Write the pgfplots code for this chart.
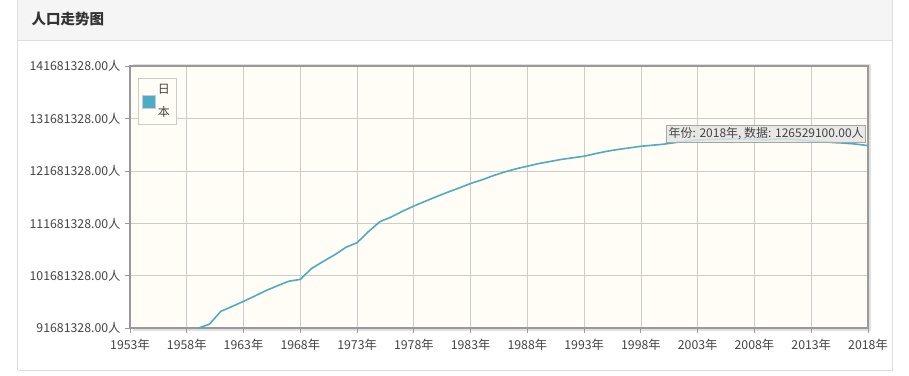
\documentclass[border=0pt]{standalone}
\usepackage{fontspec}
\setmainfont{Noto Sans CJK SC}
\usepackage{pgfplots}
\pgfplotsset{compat=1.18}
\definecolor{linec}{RGB}{77,172,190}
\definecolor{legc}{RGB}{75,172,198}
\definecolor{headbg}{RGB}{245,245,245}
\definecolor{panelb}{RGB}{221,221,221}
\definecolor{titlec}{RGB}{51,51,51}
\definecolor{labc}{RGB}{68,68,68}
\definecolor{gridc}{RGB}{204,204,204}
\definecolor{framec}{RGB}{153,153,153}
\definecolor{plotbg}{RGB}{255,253,246}
\pgfplotstableread{
year pop
1959 91.681328
1960 92.45
1961 94.90
1962 95.83
1963 96.81
1964 97.83
1965 98.88
1966 99.79
1967 100.65
1968 101.00
1969 103.10
1970 104.40
1971 105.65
1972 107.10
1973 108.00
1974 110.10
1975 112.00
1976 112.90
1977 114.00
1978 115.00
1979 115.90
1980 116.80
1981 117.65
1982 118.45
1983 119.30
1984 120.00
1985 120.80
1986 121.50
1987 122.10
1988 122.60
1989 123.10
1990 123.50
1991 123.90
1992 124.20
1993 124.50
1994 125.00
1995 125.45
1996 125.80
1997 126.10
1998 126.40
1999 126.60
2000 126.80
2001 127.10
2002 127.40
2003 127.60
2004 127.70
2005 127.75
2006 127.80
2007 127.80
2008 127.70
2009 127.60
2010 127.80
2011 127.80
2012 127.60
2013 127.40
2014 127.30
2015 127.10
2016 127.00
2017 126.80
2018 126.5291
}\poptable
\begin{document}
\begin{tikzpicture}[x=1pt,y=1pt]
\fill[white] (0,0) rectangle (909,375);
\fill[headbg] (17,335) rectangle (893,375);
\draw[panelb] (17.5,5.5) -- (17.5,375) (892.5,375) -- (892.5,5.5);
\draw[panelb] (17.5,5.5) -- (892.5,5.5);
\draw[panelb] (17,335) -- (893,335);
\node[anchor=west,font=\bfseries\fontsize{14.5}{16}\selectfont,text=titlec] at (28,356) {人口走势图};
\fill[black!12] (133,44) rectangle (871,311);
\begin{axis}[
  at={(130pt,47pt)}, anchor=south west,
  width=738pt, height=262pt, scale only axis,
  xmin=1953, xmax=2018,
  ymin=91.681328, ymax=141.681328,
  xtick pos=bottom, ytick pos=left,
  xtick={1953,1958,1963,1968,1973,1978,1983,1988,1993,1998,2003,2008,2013,2018},
  xticklabels={1953年,1958年,1963年,1968年,1973年,1978年,1983年,1988年,1993年,1998年,2003年,2008年,2013年,2018年},
  ytick={91.681328,101.681328,111.681328,121.681328,131.681328,141.681328},
  yticklabels={91681328.00人,101681328.00人,111681328.00人,121681328.00人,131681328.00人,141681328.00人},
  grid=major,
  grid style={gridc, line width=0.8pt},
  axis line style={framec, line width=2pt},
  major tick style={framec, line width=1pt},
  tick align=outside,
  major tick length=5pt,
  axis background/.style={fill=plotbg},
  ticklabel style={font=\fontsize{12.3}{14}\selectfont, text=labc},
  yticklabel style={xshift=-1pt},
  xticklabel style={yshift=-2pt},
  legend style={at={(0.0108,0.954)}, anchor=north west, draw=gridc, line width=0.8pt,
    fill=plotbg, font=\fontsize{12}{14}\selectfont, text=labc,
    inner xsep=4pt, inner ysep=4pt,
    cells={align=center, inner xsep=7pt}},
  legend image code/.code={\draw[fill=legc, draw=gridc, line width=0.6pt] (0pt,-6.5pt) rectangle (13pt,6.5pt);},
  clip=true,
]
\addplot[linec, line width=1.6pt] table[x=year,y=pop] {\poptable};
\addlegendentry{日\\[9pt]本}
\end{axis}
\node[fill=black!10, fill opacity=0.85, text opacity=1, draw=black!35, line width=0.6pt,
  inner xsep=2pt, inner ysep=2pt, text=labc, font=\fontsize{12}{14}\selectfont,
  anchor=east] at (866,241.5) {年份: 2018年, 数据: 126529100.00人};
\end{tikzpicture}
\end{document}
